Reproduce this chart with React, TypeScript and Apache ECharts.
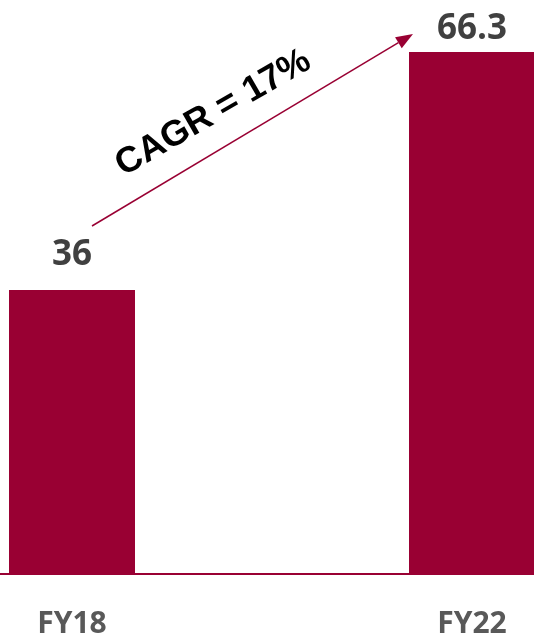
import React, { useEffect, useRef } from "react";
import * as echarts from "echarts";

const categories = ["FY18", "FY22"];
const values = [36, 66.3];
const labelDistances = [21, 9];
const cagrText = "CAGR = 17%";

const CRIMSON = "#990033";

export default function App() {
  const ref = useRef<HTMLDivElement>(null);
  useEffect(() => {
    if (!ref.current) return;
    const chart = echarts.init(ref.current, null, { renderer: "svg" });
    const tip = [413, 34];
    const start = [92, 226];
    const dx = tip[0] - start[0];
    const dy = tip[1] - start[1];
    const len = Math.sqrt(dx * dx + dy * dy);
    const ux = dx / len;
    const uy = dy / len;
    const headLen = 17;
    const headHalf = 6.5;
    const bx = tip[0] - ux * headLen;
    const by = tip[1] - uy * headLen;
    const px = -uy;
    const py = ux;
    chart.setOption({
      animation: false,
      grid: { left: 72, right: 62, top: 0, bottom: 62, containLabel: false },
      xAxis: {
        type: "category",
        data: categories,
        boundaryGap: false,
        axisLine: { show: false },
        axisTick: { show: false },
        axisLabel: {
          margin: 36,
          lineHeight: 24,
          color: "#595959",
          fontFamily: "Open Sans",
          fontWeight: "bold",
          fontSize: 30,
        },
      },
      yAxis: {
        type: "value",
        min: 0,
        max: 72.9,
        show: false,
        splitLine: { show: false },
      },
      series: [
        {
          type: "bar",
          barWidth: 126,
          data: values.map((v, i) => ({
            value: v,
            label: { distance: labelDistances[i] },
          })),
          itemStyle: { color: CRIMSON },
          label: {
            show: true,
            position: "top",
            color: "#404040",
            fontFamily: "Open Sans",
            fontWeight: "bold",
            fontSize: 35,
          },
        },
      ],
      graphic: [
        {
          type: "line",
          shape: { x1: 0, y1: 574, x2: 534, y2: 574 },
          style: { stroke: CRIMSON, lineWidth: 2 },
          silent: true,
          z: 10,
        },
        {
          type: "line",
          shape: { x1: start[0], y1: start[1], x2: bx, y2: by },
          style: { stroke: CRIMSON, lineWidth: 1.5 },
          silent: true,
        },
        {
          type: "polygon",
          shape: {
            points: [
              [tip[0], tip[1]],
              [bx + px * headHalf, by + py * headHalf],
              [bx - px * headHalf, by - py * headHalf],
            ],
          },
          style: { fill: CRIMSON },
          silent: true,
        },
        {
          type: "text",
          x: 212,
          y: 111,
          rotation: Math.PI / 6,
          style: {
            text: cagrText,
            fill: "#000000",
            font: "bold 36px 'Liberation Sans', Arial, sans-serif",
            align: "center",
            verticalAlign: "middle",
          },
          silent: true,
        },
      ],
    });
    return () => chart.dispose();
  }, []);
  return (
    <div
      ref={ref}
      style={{ position: "fixed", left: 0, top: 0, width: 534, height: 636 }}
    />
  );
}
